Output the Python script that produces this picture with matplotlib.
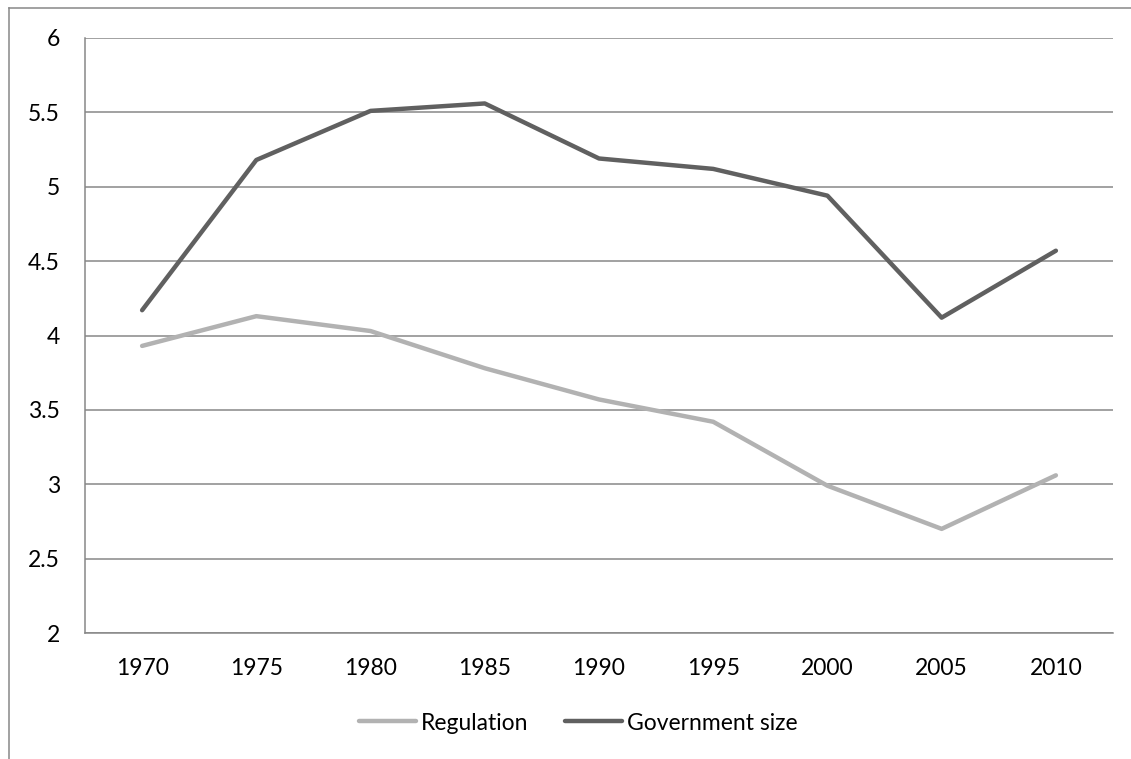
import matplotlib
matplotlib.use('Agg')
import matplotlib.pyplot as plt
from matplotlib.lines import Line2D

# Index values by year
years = ['1970', '1975', '1980', '1985', '1990', '1995', '2000', '2005', '2010']
regulation = [3.93, 4.13, 4.03, 3.78, 3.57, 3.42, 2.99, 2.70, 3.06]
government_size = [4.17, 5.18, 5.51, 5.56, 5.19, 5.12, 4.94, 4.12, 4.57]
y_ticks = [2, 2.5, 3, 3.5, 4, 4.5, 5, 5.5, 6]
y_tick_labels = ['2', '2.5', '3', '3.5', '4', '4.5', '5', '5.5', '6']

plt.rcParams['font.family'] = ['Lato', 'DejaVu Sans']

W, H = 1131, 759
fig = plt.figure(figsize=(W / 100, H / 100), dpi=100)
fig.patch.set_facecolor('white')

ax = fig.add_axes([85 / W, 1 - 633 / H, (1113 - 85) / W, (633 - 38) / H])

x = list(range(len(years)))
ax.plot(x, regulation, color='#b2b2b2', linewidth=3.2, solid_capstyle='round',
        solid_joinstyle='round', label='Regulation', zorder=3)
ax.plot(x, government_size, color='#606060', linewidth=3.2, solid_capstyle='round',
        solid_joinstyle='round', label='Government size', zorder=3)

ax.set_xlim(-0.5, len(years) - 0.5)
ax.set_ylim(2, 6)
ax.set_xticks(x)
ax.set_xticklabels(years)
ax.set_yticks(y_ticks)
ax.set_yticklabels(y_tick_labels)
ax.tick_params(axis='both', length=0, labelsize=16.5, colors='black', pad=18)

# Horizontal gridlines only, Excel style
ax.grid(axis='y', color='#878787', linewidth=1.1)
ax.set_axisbelow(True)
for side in ['top', 'right']:
    ax.spines[side].set_visible(False)
for side in ['left', 'bottom']:
    ax.spines[side].set_color('#878787')
    ax.spines[side].set_linewidth(1.1)

ax.legend(loc='center', bbox_to_anchor=(578 / W, 1 - 723 / H),
          bbox_transform=fig.transFigure, ncol=2, frameon=False,
          fontsize=16.5, handlelength=2.5, handletextpad=0.2, columnspacing=1.6)

# Chart area border (clipped by the image edge on right and bottom)
fig.add_artist(Line2D([9 / W, 9 / W], [0, 1 - 8 / H], transform=fig.transFigure,
                      color='#888888', linewidth=1.1))
fig.add_artist(Line2D([9 / W, 1], [1 - 8 / H, 1 - 8 / H], transform=fig.transFigure,
                      color='#888888', linewidth=1.1))

fig.savefig('out.png', dpi=100, facecolor='white')
plt.close(fig)
